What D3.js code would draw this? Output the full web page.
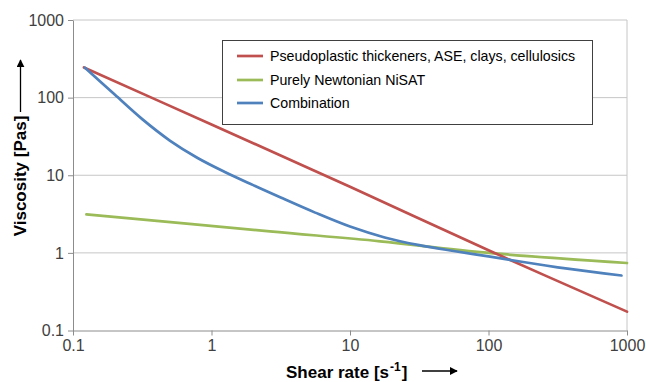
<!DOCTYPE html>
<html>
<head>
<meta charset="utf-8">
<script src="https://cdn.jsdelivr.net/npm/d3@7"></script>
<style>
  body { margin: 0; background: #fff; }
  svg { font-family: "Liberation Sans", Arial, sans-serif; }
</style>
</head>
<body>
<svg id="chart" width="646" height="382"></svg>
<script>
// values (log-log)
const tickValues = [0.1, 1, 10, 100, 1000];
const tickLabels = ['0.1', '1', '10', '100', '1000'];

const pseudoRate = [0.12, 1, 10, 100, 1000];
const pseudoVisc = [245, 45, 7.1, 1.08, 0.175];

const newtonRate = [0.125, 2.64, 16.5, 87, 1000];
const newtonVisc = [3.14, 1.89, 1.41, 1.02, 0.74];

const comboRate = [0.122, 0.2, 0.316, 0.5, 0.794, 1.26, 2, 3.16, 5.6, 10, 17.8, 31.6, 56, 100, 178, 316, 562, 912];
const comboVisc = [243, 109.4, 52.8, 28, 16.7, 10.94, 7.46, 5.16, 3.3, 2.18, 1.58, 1.256, 1.057, 0.9, 0.762, 0.652, 0.568, 0.511];

const seriesNames = ['Pseudoplastic thickeners, ASE, clays, cellulosics', 'Purely Newtonian NiSAT', 'Combination'];
const seriesColors = ['#c0504d', '#9bbb59', '#4f81bd'];

const svg = d3.select('#chart');
const plotLeft = 73, plotRight = 627, plotTop = 20, plotBottom = 330.5;

const x = d3.scaleLog().domain([0.1, 1000]).range([plotLeft, plotRight]);
const y = d3.scaleLog().domain([0.1, 1000]).range([plotBottom, plotTop]);

// gridlines
svg.append('g').selectAll('line')
  .data(tickValues.slice(1)).enter()
  .append('line')
  .attr('x1', plotLeft).attr('x2', plotRight)
  .attr('y1', d => y(d)).attr('y2', d => y(d))
  .attr('stroke', '#c6c6c6').attr('stroke-width', 1);

// right border
svg.append('line')
  .attr('x1', plotRight).attr('x2', plotRight).attr('y1', plotTop).attr('y2', plotBottom)
  .attr('stroke', '#c6c6c6').attr('stroke-width', 1);

const yAxis = svg.append('g')
  .attr('transform', `translate(${plotLeft},0)`)
  .call(d3.axisLeft(y).tickValues(tickValues).tickFormat((d, i) => tickLabels[i]).tickSize(5).tickSizeOuter(0));
const xAxis = svg.append('g')
  .attr('transform', `translate(0,${plotBottom})`)
  .call(d3.axisBottom(x).tickValues(tickValues).tickFormat((d, i) => tickLabels[i]).tickSize(5).tickSizeOuter(0));

[yAxis, xAxis].forEach(ax => {
  ax.select('.domain').attr('stroke', '#8c8c8c');
  ax.selectAll('.tick line').attr('stroke', '#8c8c8c');
  ax.selectAll('.tick text').attr('fill', '#404040').style('font-size', '16px')
    .style('font-family', '"Liberation Sans", Arial, sans-serif');
});
yAxis.selectAll('.tick text').attr('x', -9);
xAxis.selectAll('.tick text').attr('y', 9);

// lines
const line = d3.line()
  .x(d => x(d[0])).y(d => y(d[1]))
  .curve(d3.curveCatmullRom.alpha(0.5));

const series = [
  d3.zip(pseudoRate, pseudoVisc),
  d3.zip(newtonRate, newtonVisc),
  d3.zip(comboRate, comboVisc)
];
[1, 0, 2].forEach(i => {
  svg.append('path')
    .attr('d', line(series[i]))
    .attr('fill', 'none')
    .attr('stroke', seriesColors[i])
    .attr('stroke-width', 2.7)
    .attr('stroke-linecap', 'round');
});

// legend
const legend = svg.append('g');
legend.append('rect')
  .attr('x', 222.5).attr('y', 40.5).attr('width', 370).attr('height', 84)
  .attr('fill', '#fff').attr('stroke', '#404040').attr('stroke-width', 1);
const rowsY = [56, 80, 103];
seriesNames.forEach((name, i) => {
  legend.append('line')
    .attr('x1', 237).attr('x2', 263).attr('y1', rowsY[i]).attr('y2', rowsY[i])
    .attr('stroke', seriesColors[i]).attr('stroke-width', 2.7);
  legend.append('text')
    .attr('x', 270).attr('y', rowsY[i] + 5)
    .attr('fill', '#000').style('font-size', '14.2px')
    .text(name);
});

// axis titles
const arrowDefs = svg.append('defs');
arrowDefs.append('marker')
  .attr('id', 'arrow').attr('viewBox', '0 0 10 10')
  .attr('refX', 9).attr('refY', 5)
  .attr('markerWidth', 8).attr('markerHeight', 8).attr('markerUnits', 'userSpaceOnUse')
  .attr('orient', 'auto')
  .append('path').attr('d', 'M0,0 L10,5 L0,10 Z').attr('fill', '#000');

svg.append('text')
  .attr('transform', 'translate(26,176) rotate(-90)')
  .attr('text-anchor', 'middle')
  .style('font-size', '17px').style('font-weight', 'bold')
  .text('Viscosity [Pas]');
svg.append('line')
  .attr('x1', 20.5).attr('x2', 20.5).attr('y1', 112).attr('y2', 60)
  .attr('stroke', '#000').attr('stroke-width', 1.3)
  .attr('marker-end', 'url(#arrow)');

const xt = svg.append('text')
  .attr('x', 286).attr('y', 377.5)
  .style('font-size', '17px').style('font-weight', 'bold');
xt.append('tspan').text('Shear rate [s');
xt.append('tspan').attr('dy', -7).attr('dx', 1).style('font-size', '12px').text('-1');
xt.append('tspan').attr('dy', 7).attr('dx', 1).text(']');
svg.append('line')
  .attr('x1', 422).attr('x2', 457).attr('y1', 371).attr('y2', 371)
  .attr('stroke', '#000').attr('stroke-width', 1.3)
  .attr('marker-end', 'url(#arrow)');
</script>
</body>
</html>
